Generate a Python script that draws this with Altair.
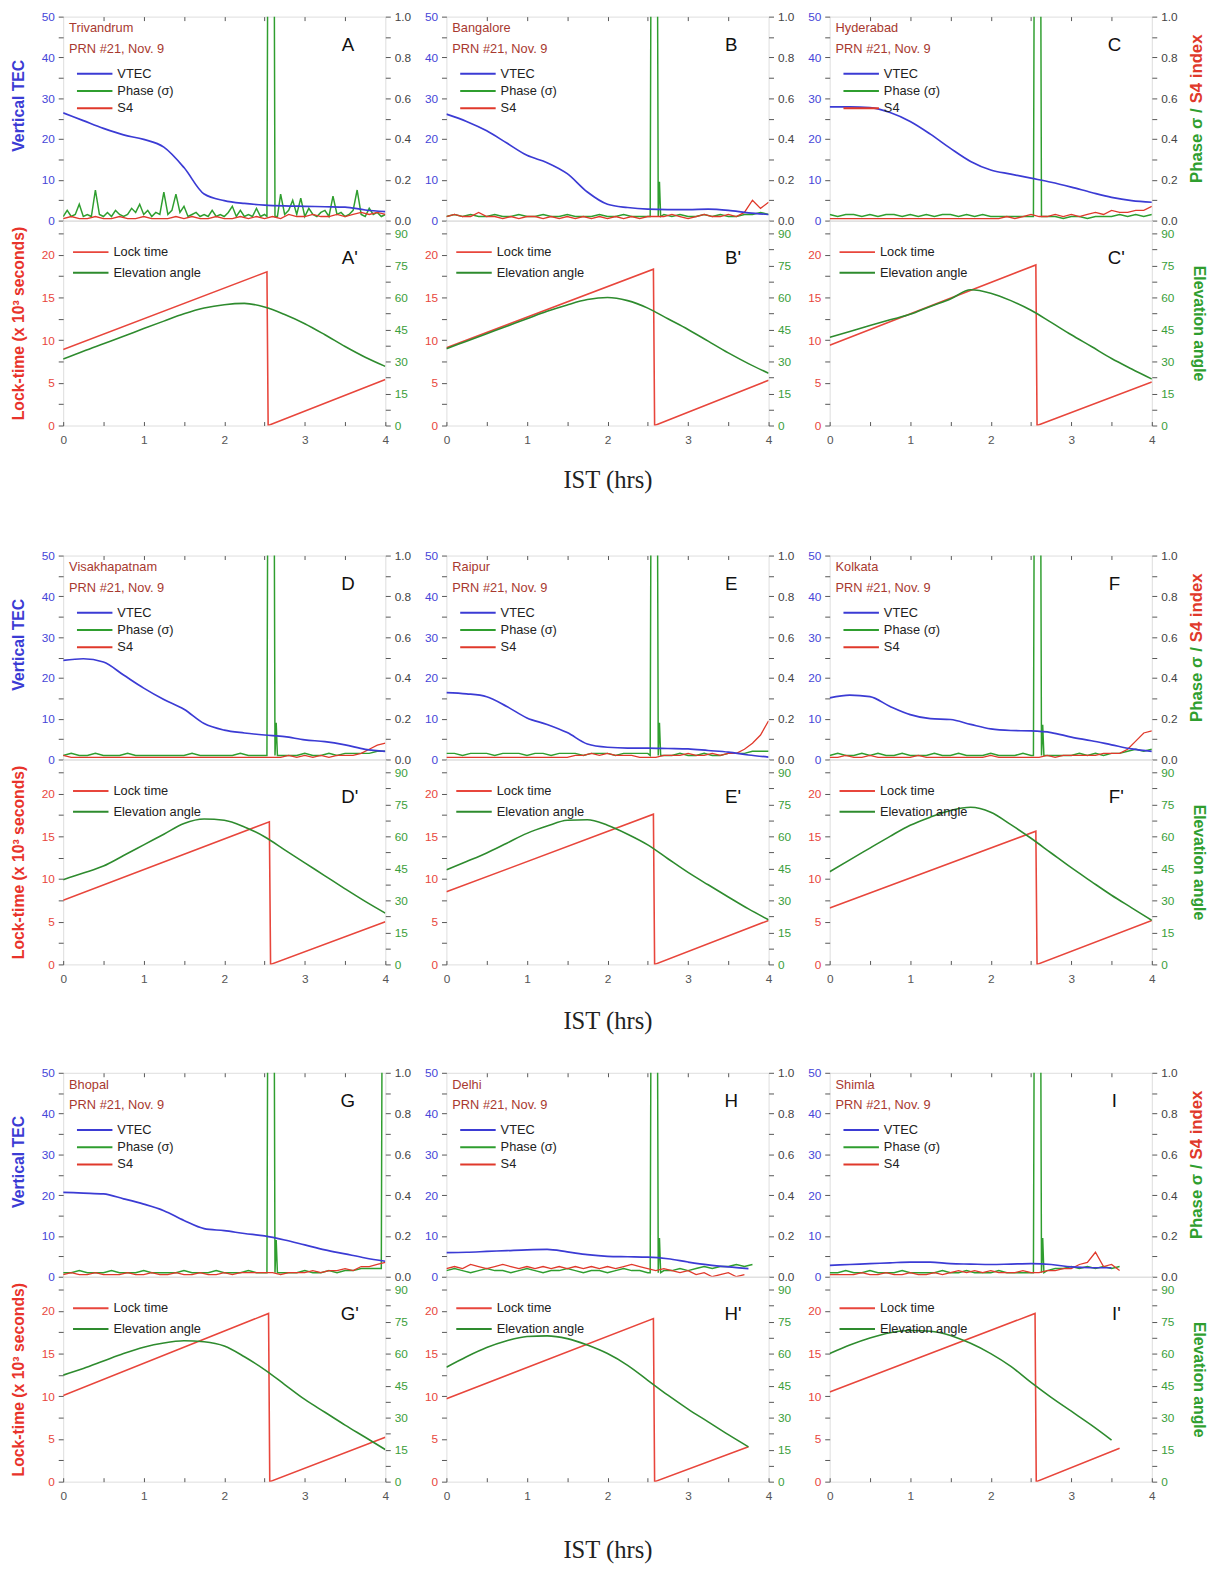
import altair as alt
import pandas as pd

FONT = "Liberation Sans"
SERIF = "Liberation Serif"

STATIONS = ["Trivandrum", "Bangalore", "Hyderabad", "Visakhapatnam", "Raipur",
            "Kolkata", "Bhopal", "Delhi", "Shimla"]
LETTERS = ["A", "B", "C", "D", "E", "F", "G", "H", "I"]
PRN_LABEL = "PRN #21, Nov. 9"
TOP_SERIES = ["VTEC", "Phase (σ)", "S4"]
BOT_SERIES = ["Lock time", "Elevation angle"]

TOP_COLORS = ["#3b3bd4", "#2f9e2f", "#e0392b"]
BOT_COLORS = ["#e8463c", "#2e8b2e"]
BLUE_L = "#4646d8"
RED_L = "#e8463c"
GREEN_L = "#3a9e3a"
GREY_L = "#444444"
STATION_COLOR = "#a8392f"

# time grid for VTEC and elevation (IST hours)
VT = [0.0, 0.25, 0.5, 0.75, 1.0, 1.25, 1.5, 1.75, 2.0, 2.25, 2.5, 2.75, 3.0, 3.25, 3.5, 3.75, 4.0]

VTEC = [
    [26.4, 24.5, 22.6, 21.0, 19.9, 18.0, 13.0, 6.5, 4.9, 4.2, 3.8, 3.6, 3.5, 3.4, 3.3, 2.6, 2.2],
    [26.1, 24.3, 22.0, 19.0, 16.0, 14.2, 11.5, 7.0, 4.0, 3.2, 2.8, 2.7, 2.7, 2.8, 2.5, 1.9, 1.5],
    [27.9, 27.9, 27.7, 26.5, 24.3, 21.2, 17.7, 14.5, 12.4, 11.4, 10.4, 9.4, 8.2, 6.9, 5.7, 4.9, 4.5],
    [24.3, 24.7, 23.9, 20.7, 17.5, 14.7, 12.3, 8.8, 7.2, 6.5, 6.0, 5.6, 4.8, 4.4, 3.6, 2.5, 2.0],
    [16.4, 16.1, 15.4, 13.0, 10.2, 8.6, 6.6, 3.8, 3.0, 2.8, 2.8, 2.7, 2.6, 2.2, 1.8, 1.1, 0.6],
    [15.1, 15.8, 15.4, 13.0, 11.0, 10.0, 9.8, 8.6, 7.5, 7.1, 7.0, 6.6, 5.5, 4.6, 3.6, 2.6, 2.0],
    [20.7, 20.5, 20.3, 19.1, 17.8, 16.2, 13.8, 11.8, 11.3, 10.6, 10.0, 9.0, 7.8, 6.6, 5.6, 4.6, 3.8],
    [5.9, 6.0, 6.2, 6.4, 6.6, 6.7, 6.1, 5.4, 5.0, 4.9, 4.8, 4.4, 3.6, 2.9, 2.4, 2.0],
    [2.8, 3.0, 3.2, 3.4, 3.6, 3.6, 3.2, 3.1, 3.0, 3.1, 3.2, 3.0, 2.4, 2.2, 2.2],
]

ELEV = [
    [31.1, 34.8, 38.3, 41.8, 45.4, 48.9, 52.3, 55.0, 56.6, 57.2, 55.5, 52.0, 47.7, 42.5, 37.0, 32.0, 27.7],
    [36.0, 39.5, 43.0, 46.5, 50.0, 53.5, 56.5, 59.0, 60.0, 58.5, 55.0, 50.0, 45.0, 39.5, 34.0, 29.0, 24.5],
    [41.3, 44.0, 46.8, 49.5, 52.1, 55.8, 59.3, 63.6, 62.0, 58.5, 54.0, 48.3, 42.5, 37.0, 31.4, 26.5, 21.8],
    [39.7, 42.8, 46.1, 51.0, 56.0, 61.0, 66.0, 68.1, 67.5, 64.4, 59.8, 53.7, 47.6, 41.5, 35.4, 29.5, 24.0],
    [44.3, 48.2, 52.2, 56.8, 61.4, 64.8, 67.5, 67.8, 65.2, 61.0, 56.0, 49.5, 43.1, 37.3, 31.6, 26.0, 20.9],
    [43.4, 49.0, 54.5, 60.0, 65.2, 69.0, 72.1, 73.6, 71.3, 65.5, 59.1, 52.2, 45.3, 38.8, 32.4, 26.5, 20.6],
    [49.9, 53.0, 56.5, 60.0, 63.0, 65.0, 66.0, 65.5, 63.5, 58.5, 52.5, 45.5, 38.5, 32.5, 26.5, 20.8, 15.0],
    [53.6, 58.5, 62.8, 66.0, 68.0, 68.3, 67.0, 64.0, 60.0, 54.5, 47.5, 40.5, 34.0, 28.0, 22.0, 16.3],
    [60.0, 64.0, 67.3, 69.8, 70.8, 70.5, 68.5, 64.8, 60.0, 54.0, 46.5, 39.5, 33.0, 26.5, 19.5],
]

LOCK_T = [
    [0.0, 2.53, 2.545, 4.0],
    [0.0, 2.57, 2.585, 4.0],
    [0.0, 2.56, 2.575, 4.0],
    [0.0, 2.56, 2.575, 4.0],
    [0.0, 2.57, 2.585, 4.0],
    [0.0, 2.56, 2.575, 4.0],
    [0.0, 2.55, 2.565, 4.0],
    [0.0, 2.57, 2.585, 3.75],
    [0.0, 2.55, 2.565, 3.6],
]
LOCK_V = [
    [8.9, 18.0, 0.0, 5.4],
    [9.1, 18.3, 0.0, 5.3],
    [9.4, 18.8, 0.0, 5.1],
    [7.5, 16.7, 0.0, 5.0],
    [8.5, 17.6, 0.0, 5.15],
    [6.6, 15.6, 0.0, 5.15],
    [10.1, 19.7, 0.0, 5.2],
    [9.7, 19.1, 0.0, 4.1],
    [10.5, 19.7, 0.0, 3.9],
]

# phase sigma: noise before the loss-of-lock spike (from 0 h) and after it (from 2.7 h)
PHASE_STEP = [0.05, 0.1, 0.1, 0.1, 0.1, 0.1, 0.1, 0.1, 0.1]
PHASE_PRE = [
    [0.02, 0.05, 0.02, 0.03, 0.08, 0.02, 0.03, 0.02, 0.15, 0.03,
     0.02, 0.04, 0.02, 0.05, 0.03, 0.02, 0.03, 0.06, 0.04, 0.08,
     0.03, 0.05, 0.02, 0.04, 0.03, 0.14, 0.03, 0.05, 0.13, 0.04,
     0.07, 0.02, 0.03, 0.04, 0.02, 0.03, 0.02, 0.05, 0.02, 0.03,
     0.02, 0.04, 0.07, 0.02, 0.05, 0.02, 0.03, 0.02, 0.06, 0.02, 0.03],
    [0.02, 0.03, 0.02, 0.03, 0.02, 0.02, 0.03, 0.02, 0.02, 0.03,
     0.02, 0.02, 0.03, 0.02, 0.02, 0.03, 0.02, 0.02, 0.02, 0.03,
     0.02, 0.02, 0.03, 0.02, 0.02, 0.02],
    [0.03, 0.02, 0.03, 0.03, 0.02, 0.03, 0.02, 0.03, 0.03, 0.02,
     0.03, 0.02, 0.03, 0.02, 0.03, 0.03, 0.02, 0.03, 0.02, 0.03,
     0.02, 0.02, 0.02, 0.02, 0.02, 0.02],
    [0.02, 0.03, 0.02, 0.02, 0.03, 0.02, 0.02, 0.02, 0.03, 0.02,
     0.02, 0.02, 0.02, 0.02, 0.02, 0.02, 0.03, 0.02, 0.02, 0.02,
     0.02, 0.02, 0.03, 0.02, 0.02, 0.02],
    [0.03, 0.03, 0.02, 0.03, 0.03, 0.03, 0.02, 0.03, 0.03, 0.03,
     0.02, 0.03, 0.03, 0.02, 0.03, 0.03, 0.03, 0.02, 0.03, 0.03,
     0.03, 0.02, 0.03, 0.03, 0.03, 0.03],
    [0.02, 0.03, 0.02, 0.02, 0.03, 0.02, 0.03, 0.02, 0.02, 0.03,
     0.02, 0.02, 0.02, 0.03, 0.02, 0.02, 0.03, 0.02, 0.02, 0.02,
     0.03, 0.02, 0.02, 0.02, 0.03, 0.02],
    [0.02, 0.02, 0.03, 0.02, 0.02, 0.02, 0.03, 0.02, 0.02, 0.02,
     0.03, 0.02, 0.02, 0.02, 0.02, 0.03, 0.02, 0.02, 0.02, 0.03,
     0.02, 0.02, 0.02, 0.03, 0.02, 0.02],
    [0.03, 0.04, 0.03, 0.02, 0.03, 0.04, 0.03, 0.03, 0.02, 0.03,
     0.04, 0.03, 0.02, 0.03, 0.03, 0.04, 0.03, 0.02, 0.03, 0.03,
     0.02, 0.03, 0.04, 0.03, 0.03, 0.02],
    [0.02, 0.02, 0.03, 0.02, 0.02, 0.03, 0.02, 0.02, 0.02, 0.03,
     0.02, 0.02, 0.02, 0.02, 0.03, 0.02, 0.02, 0.03, 0.02, 0.02,
     0.02, 0.03, 0.02, 0.02, 0.02, 0.02],
]
PHASE_POST = [
    [0.13, 0.03, 0.05, 0.10, 0.03, 0.11, 0.02, 0.06, 0.03, 0.02,
     0.04, 0.05, 0.02, 0.12, 0.03, 0.04, 0.02, 0.03, 0.05, 0.15,
     0.03, 0.02, 0.06, 0.03, 0.04, 0.02, 0.03],
    [0.03, 0.02, 0.03, 0.02, 0.02, 0.03, 0.02, 0.03, 0.02, 0.02, 0.03, 0.03, 0.04, 0.03],
    [0.02, 0.02, 0.01, 0.02, 0.02, 0.01, 0.02, 0.02, 0.02, 0.03, 0.02, 0.03, 0.02, 0.03],
    [0.02, 0.02, 0.02, 0.03, 0.02, 0.02, 0.03, 0.02, 0.03, 0.03, 0.03, 0.03, 0.04, 0.04],
    [0.02, 0.02, 0.03, 0.02, 0.02, 0.03, 0.02, 0.02, 0.03, 0.03, 0.03, 0.04, 0.04, 0.04],
    [0.02, 0.02, 0.02, 0.02, 0.03, 0.02, 0.03, 0.02, 0.03, 0.03, 0.04, 0.05, 0.04, 0.05],
    [0.02, 0.02, 0.02, 0.03, 0.02, 0.02, 0.03, 0.02, 0.03, 0.03, 0.04, 0.04, 0.04],
    [0.03, 0.03, 0.04, 0.03, 0.04, 0.05, 0.04, 0.05, 0.05, 0.06, 0.05, 0.06],
    [0.03, 0.04, 0.04, 0.05, 0.04, 0.05, 0.04, 0.05, 0.04, 0.05],
]
# the loss-of-lock spike near 2.55 h (values above 1.0 are clipped at the frame)
SPIKE_T = [2.53, 2.54, 2.62, 2.63, 2.645, 2.66]
SPIKE_TOP = 1.3
SPIKE_BASE = 0.02
SPIKE2 = [0.02, 0.19, 0.02, 0.18, 0.18, 0.17, 0.18, 0.19, 0.19]
EXTRA_T = [[], [], [], [], [], [], [3.95, 3.96, 3.995], [], []]
EXTRA_V = [[], [], [], [], [], [], [0.04, 1.3, 1.3], [], []]

S4 = [
    [0.01, 0.02, 0.01, 0.01, 0.02, 0.01, 0.01, 0.02, 0.01, 0.01,
     0.02, 0.01, 0.01, 0.01, 0.02, 0.01, 0.02, 0.01, 0.01, 0.02,
     0.01, 0.01, 0.02, 0.01, 0.02, 0.01, 0.02, 0.01, 0.03, 0.02,
     0.02, 0.03, 0.02, 0.02, 0.03, 0.02, 0.03, 0.04, 0.03, 0.04, 0.03],
    [0.02, 0.03, 0.02, 0.02, 0.04, 0.02, 0.02, 0.01, 0.02, 0.01,
     0.02, 0.02, 0.01, 0.02, 0.01, 0.02, 0.01, 0.02, 0.01, 0.02,
     0.01, 0.02, 0.01, 0.02, 0.01, 0.02, 0.02, 0.02, 0.03, 0.02,
     0.01, 0.02, 0.03, 0.02, 0.02, 0.03, 0.02, 0.04, 0.10, 0.06, 0.09],
    [0.01, 0.01, 0.01, 0.01, 0.01, 0.01, 0.01, 0.01, 0.01, 0.01,
     0.01, 0.01, 0.01, 0.01, 0.01, 0.01, 0.01, 0.01, 0.01, 0.01,
     0.01, 0.01, 0.02, 0.01, 0.02, 0.03, 0.02, 0.02, 0.03, 0.02,
     0.03, 0.02, 0.03, 0.04, 0.03, 0.05, 0.04, 0.04, 0.05, 0.05, 0.07],
    [0.02, 0.01, 0.01, 0.01, 0.01, 0.01, 0.01, 0.01, 0.01, 0.01,
     0.01, 0.01, 0.01, 0.01, 0.01, 0.01, 0.01, 0.01, 0.01, 0.01,
     0.01, 0.01, 0.01, 0.01, 0.01, 0.01, 0.01, 0.01, 0.02, 0.01,
     0.02, 0.01, 0.02, 0.01, 0.02, 0.02, 0.02, 0.03, 0.05, 0.07, 0.08],
    [0.01, 0.01, 0.01, 0.01, 0.01, 0.01, 0.01, 0.01, 0.01, 0.01,
     0.01, 0.01, 0.01, 0.01, 0.01, 0.01, 0.02, 0.02, 0.03, 0.02,
     0.03, 0.02, 0.02, 0.02, 0.01, 0.01, 0.01, 0.02, 0.02, 0.02,
     0.03, 0.02, 0.02, 0.03, 0.02, 0.03, 0.03, 0.05, 0.08, 0.12, 0.19],
    [0.01, 0.01, 0.02, 0.01, 0.01, 0.02, 0.01, 0.01, 0.01, 0.01,
     0.01, 0.02, 0.01, 0.01, 0.01, 0.01, 0.01, 0.01, 0.01, 0.01,
     0.02, 0.01, 0.01, 0.01, 0.01, 0.01, 0.01, 0.02, 0.01, 0.02,
     0.02, 0.02, 0.02, 0.02, 0.03, 0.03, 0.03, 0.05, 0.09, 0.13, 0.14],
    [0.01, 0.02, 0.01, 0.01, 0.02, 0.01, 0.01, 0.01, 0.02, 0.01,
     0.01, 0.02, 0.01, 0.01, 0.02, 0.01, 0.01, 0.02, 0.01, 0.01,
     0.02, 0.01, 0.02, 0.02, 0.02, 0.02, 0.02, 0.01, 0.02, 0.02,
     0.02, 0.03, 0.02, 0.03, 0.03, 0.04, 0.03, 0.05, 0.05, 0.06, 0.07],
    [0.04, 0.05, 0.04, 0.06, 0.05, 0.04, 0.05, 0.06, 0.05, 0.04,
     0.05, 0.04, 0.05, 0.04, 0.05, 0.04, 0.05, 0.04, 0.05, 0.04,
     0.05, 0.04, 0.05, 0.06, 0.05, 0.04, 0.03, 0.04, 0.03, 0.02,
     0.03, 0.01, 0.02, 0.00, 0.01, 0.02, 0.00, 0.01],
    [0.01, 0.01, 0.01, 0.01, 0.02, 0.01, 0.01, 0.02, 0.01, 0.01,
     0.02, 0.01, 0.01, 0.02, 0.01, 0.02, 0.03, 0.02, 0.03, 0.02,
     0.03, 0.02, 0.02, 0.02, 0.03, 0.02, 0.02, 0.03, 0.03, 0.04,
     0.04, 0.06, 0.07, 0.12, 0.05, 0.06, 0.03],
]
S4_STEP = 0.1

X_TICKS = [0, 0.5, 1, 1.5, 2, 2.5, 3, 3.5, 4]
X_LABELS = [0, 1, 2, 3, 4]
VTEC_TICKS = [0, 5, 10, 15, 20, 25, 30, 35, 40, 45, 50]
VTEC_LABELS = [0, 10, 20, 30, 40, 50]
IDX_TICKS = [0.0, 0.1, 0.2, 0.3, 0.4, 0.5, 0.6, 0.7, 0.8, 0.9, 1.0]
IDX_LABELS = [0.0, 0.2, 0.4, 0.6, 0.8, 1.0]
LOCK_TICKS = [0, 2.5, 5, 7.5, 10, 12.5, 15, 17.5, 20, 22.5]
LOCK_LABELS = [0, 5, 10, 15, 20]
ELEV_TICKS = [0, 7.5, 15, 22.5, 30, 37.5, 45, 52.5, 60, 67.5, 75, 82.5, 90]
ELEV_LABELS = [0, 15, 30, 45, 60, 75, 90]

W = 327
HT = 207
HB = 208
ROW_TITLE_PAD = [23, 25, 37]
LABEL_SIZE = 12
TITLE_SIZE = 16
LEGEND_LINE = "M-3,0H3"   # a 36 px stroke drawn with a small symbol size


def only(labels):
    return "indexof(" + str(list(labels)) + ", datum.value) >= 0 ? datum.label : ''"


def yaxis(orient, ticks, labels, color, title=None, tcolor=None, fmt=None, tpad=15,
          title_y=None):
    kw = dict(orient=orient, values=ticks, labelExpr=only(labels), labelColor=color,
              labelFont=FONT, labelFontSize=LABEL_SIZE, tickSize=5, tickColor="#555555",
              labelPadding=4, domain=False, grid=False, labelFlush=False,
              labelOverlap=False)
    if fmt:
        kw["format"] = fmt
    if title:
        kw.update(title=title, titleColor=tcolor, titleFont=FONT, titleFontSize=TITLE_SIZE,
                  titleFontWeight="bold", titlePadding=tpad)
        if title_y is not None:
            kw["titleY"] = title_y
    else:
        kw["title"] = None
    return alt.Axis(**kw)


def legend(x, y, row_pad):
    return alt.Legend(orient="none", legendX=x, legendY=y, title=None,
                      symbolType=LEGEND_LINE, symbolSize=144, symbolStrokeWidth=2,
                      symbolOffset=11, labelOffset=16,
                      labelFont=FONT, labelFontSize=13, labelColor="#222222",
                      rowPadding=row_pad, padding=0, direction="vertical")


one = pd.DataFrame({"k": [0]})


def text_layer(txt, x, y, size=13, color="#111111", align="left", baseline="middle",
               angle=0, weight="normal", line_height=None):
    kw = dict(text=txt, font=FONT, fontSize=size, color=color, align=align,
              baseline=baseline, fontWeight=weight)
    if angle:
        kw["angle"] = angle
    if line_height:
        kw["lineBreak"] = "\n"
        kw["lineHeight"] = line_height
    return alt.Chart(one).mark_text(**kw).encode(x=alt.value(x), y=alt.value(y))


def top_panel(i):
    col = i % 3
    xt = alt.X("t:Q", scale=alt.Scale(domain=[0, 4], nice=False, zero=False),
               axis=alt.Axis(orient="top", values=X_TICKS[1:-1], labels=False, domain=False,
                             tickSize=4, offset=-4, tickColor="#555555", grid=False, title=None))
    color = alt.Color("series:N", scale=alt.Scale(domain=TOP_SERIES, range=TOP_COLORS),
                      legend=legend(14, 51, 3.5))

    vt_df = pd.DataFrame({"t": VT[:len(VTEC[i])], "v": VTEC[i], "series": "VTEC"})
    step = PHASE_STEP[i]
    pre_t = [round(k * step, 3) for k in range(len(PHASE_PRE[i]))]
    post_t = [round(2.7 + k * step, 3) for k in range(len(PHASE_POST[i]))]
    ph_t = pre_t + SPIKE_T + post_t + EXTRA_T[i]
    ph_v = (PHASE_PRE[i] + [SPIKE_BASE, SPIKE_TOP, SPIKE_TOP, SPIKE_BASE, SPIKE2[i], SPIKE_BASE]
            + PHASE_POST[i] + EXTRA_V[i])
    ph_df = pd.DataFrame({"t": ph_t, "v": ph_v, "series": "Phase (σ)"})
    s4_df = pd.DataFrame({"t": [round(k * S4_STEP, 3) for k in range(len(S4[i]))],
                          "v": S4[i], "series": "S4"})

    left_ax = yaxis("left", VTEC_TICKS, VTEC_LABELS, BLUE_L,
                    title="Vertical TEC" if col == 0 else None, tcolor=TOP_COLORS[0],
                    title_y=90)
    right_ax = yaxis("right", IDX_TICKS, IDX_LABELS, GREY_L, fmt=".1f")

    ph = alt.Chart(ph_df).mark_line(strokeWidth=1.5, clip=True).encode(
        x=xt, y=alt.Y("v:Q", scale=alt.Scale(domain=[0, 1], nice=False), axis=right_ax),
        color=color)
    s4 = alt.Chart(s4_df).mark_line(strokeWidth=1.3, clip=True).encode(
        x=xt, y=alt.Y("v:Q", scale=alt.Scale(domain=[0, 1], nice=False), axis=None),
        color=color)
    vt = alt.Chart(vt_df).mark_line(strokeWidth=1.7, interpolate="monotone", clip=True).encode(
        x=xt, y=alt.Y("v:Q", scale=alt.Scale(domain=[0, 50], nice=False), axis=left_ax),
        color=color)

    layers = [ph, s4, vt,
              text_layer(STATIONS[i] + "\n" + PRN_LABEL, 6, 6, size=13, color=STATION_COLOR,
                         baseline="top", line_height=21),
              text_layer(LETTERS[i], W - 38, 29, size=19, align="center")]
    if col == 2:
        layers.append(text_layer("Phase σ /", W + 46, 93, size=17, color=TOP_COLORS[1],
                                 align="right", angle=270, weight="bold"))
        layers.append(text_layer("S4 index", W + 46, 88, size=17, color=TOP_COLORS[2],
                                 align="left", angle=270, weight="bold"))
    return alt.layer(*layers).resolve_scale(y="independent").properties(width=W, height=HT)


def bottom_panel(i, row):
    col = i % 3
    ax_kw = dict(orient="bottom", values=X_TICKS, labelExpr=only(X_LABELS), format=".0f",
                 offset=-4, tickSize=4, domain=False, labelPadding=9, labelColor="#555555",
                 labelFont=FONT, labelFontSize=LABEL_SIZE, tickColor="#555555", grid=False,
                 labelFlush=False, labelOverlap=False)
    if col == 1:
        ax_kw.update(title="IST (hrs)", titleFont=SERIF, titleFontSize=25,
                     titleFontWeight="normal", titleColor="#222222",
                     titlePadding=ROW_TITLE_PAD[row])
    else:
        ax_kw["title"] = None
    xb = alt.X("t:Q", scale=alt.Scale(domain=[0, 4], nice=False, zero=False),
               axis=alt.Axis(**ax_kw))
    color = alt.Color("series:N", scale=alt.Scale(domain=BOT_SERIES, range=BOT_COLORS),
                      legend=legend(10, 25, 7))
    lk_df = pd.DataFrame({"t": LOCK_T[i], "v": LOCK_V[i], "series": "Lock time"})
    el_df = pd.DataFrame({"t": VT[:len(ELEV[i])], "v": ELEV[i], "series": "Elevation angle"})

    left_ax = yaxis("left", LOCK_TICKS, LOCK_LABELS, RED_L,
                    title="Lock-time (x 10³ seconds)" if col == 0 else None,
                    tcolor="#e8332b")
    right_ax = yaxis("right", ELEV_TICKS, ELEV_LABELS, GREEN_L,
                     title="Elevation angle" if col == 2 else None, tcolor=TOP_COLORS[1],
                     tpad=17)
    lk = alt.Chart(lk_df).mark_line(strokeWidth=1.6, clip=True).encode(
        x=xb, y=alt.Y("v:Q", scale=alt.Scale(domain=[0, 24], nice=False), axis=left_ax),
        color=color)
    el = alt.Chart(el_df).mark_line(strokeWidth=1.6, interpolate="monotone", clip=True).encode(
        x=xb, y=alt.Y("v:Q", scale=alt.Scale(domain=[0, 96], nice=False), axis=right_ax),
        color=color)
    letter = text_layer(LETTERS[i] + "'", W - 36, 38, size=19, align="center")
    return alt.layer(lk, el, letter).resolve_scale(y="independent").properties(width=W, height=HB)


def column(i, row):
    # top and bottom panels share their common edge: flush layout of two leaf views
    return alt.vconcat(top_panel(i), bottom_panel(i, row), spacing=0, bounds="flush") \
        .resolve_scale(color="independent").resolve_legend(color="independent")


COL_SPACING = 12
rows = []
for r in range(3):
    rows.append(alt.hconcat(*[column(3 * r + c, r) for c in range(3)], spacing=COL_SPACING)
                .resolve_scale(color="independent").resolve_legend(color="independent"))

lower = alt.vconcat(rows[1], rows[2], spacing=32) \
    .resolve_scale(color="independent").resolve_legend(color="independent")
chart = alt.vconcat(rows[0], lower, spacing=56) \
    .resolve_scale(color="independent").resolve_legend(color="independent") \
    .properties(padding={"left": 2, "top": -10, "right": 0, "bottom": 2}, background="white") \
    .configure_view(stroke="#555555", strokeWidth=1.2) \
    .configure(font=FONT)

chart.save("out.html", embed_options={"renderer": "svg", "actions": False})
